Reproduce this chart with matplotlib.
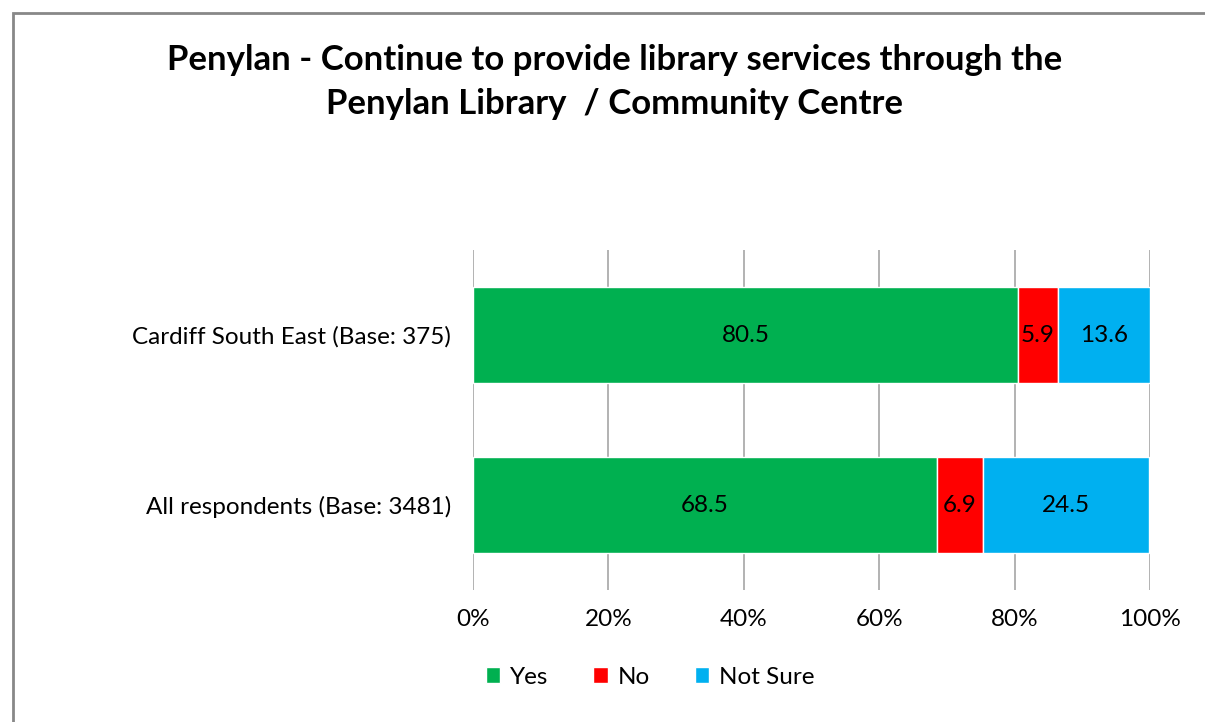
import numpy as np
import matplotlib.pyplot as plt
from matplotlib.patches import Rectangle

plt.rcParams['font.family'] = ['Lato', 'DejaVu Sans']

categories = ['All respondents (Base: 3481)', 'Cardiff South East (Base: 375)']
series = ['Yes', 'No', 'Not Sure']
yes = [68.5, 80.5]
no = [6.9, 5.9]
not_sure = [24.5, 13.6]
colors = ['#00B050', '#FF0000', '#00B0F0']
ticks = [0, 20, 40, 60, 80, 100]
tick_labels = ['0%', '20%', '40%', '60%', '80%', '100%']

fig = plt.figure(figsize=(12.05, 7.22), dpi=100)
# outer chart border
fig.patches.append(Rectangle((13 / 1205, -0.1), 1.2, 1 - 13 / 722 + 0.1,
                             transform=fig.transFigure, fill=False,
                             edgecolor='#888888', linewidth=2))

ax = fig.add_axes([473 / 1205, 132 / 722, 677 / 1205, 340 / 722])
y = np.arange(len(categories))
left = np.zeros(len(categories))
for vals, name, col in zip([yes, no, not_sure], series, colors):
    bars = ax.barh(y, vals, left=left, height=0.565, color=col,
                   edgecolor='white', linewidth=1, label=name, zorder=3)
    for b, v in zip(bars, vals):
        ax.text(b.get_x() + b.get_width() / 2, b.get_y() + b.get_height() / 2,
                f'{v:.1f}', ha='center', va='center', fontsize=17.5, zorder=4)
    left += np.array(vals)

ax.set_xlim(0, 100)
ax.set_ylim(-0.5, 1.5)
ax.set_xticks(ticks)
ax.set_xticklabels(tick_labels, fontsize=17.5)
ax.set_yticks(y)
ax.set_yticklabels(categories, fontsize=17.5)
ax.tick_params(axis='x', length=0, pad=14)
ax.tick_params(axis='y', length=0, pad=16)
ax.grid(axis='x', color='#A6A6A6', linewidth=1.2, zorder=0)
for s in ax.spines.values():
    s.set_visible(False)

fig.text(615 / 1205, 1 - 82 / 722,
         'Penylan - Continue to provide library services through the\nPenylan Library  / Community Centre',
         ha='center', va='center', fontsize=25, fontweight='bold', linespacing=1.45)

ax.legend(loc='center', bbox_to_anchor=(650 / 1205, 1 - 677 / 722),
          bbox_transform=fig.transFigure, ncol=3, frameon=False, fontsize=17.5,
          handlelength=0.6, handleheight=0.6, columnspacing=1.85, handletextpad=0.4)

fig.savefig('out.png', dpi=100)
